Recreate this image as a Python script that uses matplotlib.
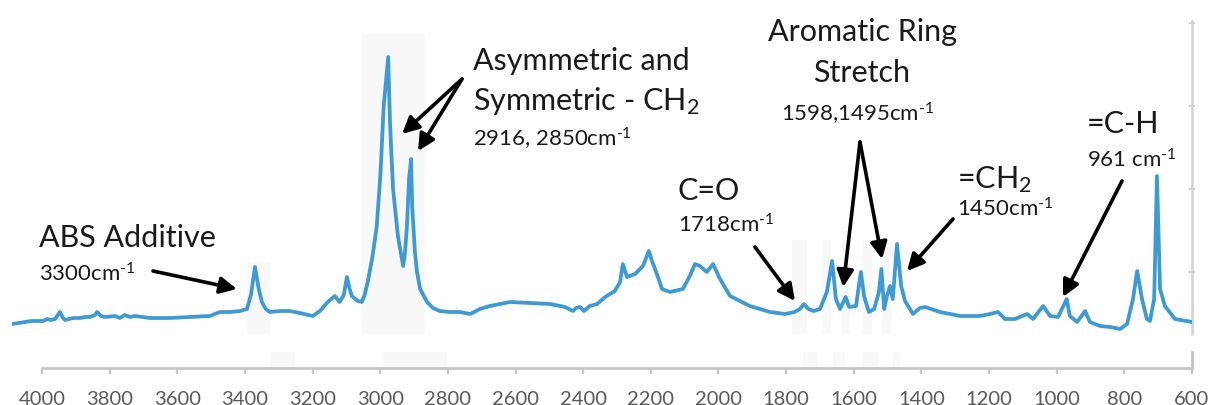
import matplotlib
matplotlib.use("Agg")
import matplotlib.pyplot as plt

plt.rcParams["font.family"] = ["Lato", "DejaVu Sans"]
plt.rcParams["mathtext.fontset"] = "custom"
plt.rcParams["mathtext.rm"] = "Lato"
plt.rcParams["mathtext.it"] = "Lato:italic"
plt.rcParams["mathtext.bf"] = "Lato:bold"

# FTIR spectrum: wavenumber (cm^-1) and absorbance (arbitrary units)
wavenumber = [
    4000, 3980, 3962, 3946, 3911, 3899, 3888, 3876, 3862, 3853, 3847, 3824,
    3804, 3790, 3775, 3761, 3755, 3744, 3732, 3703, 3689, 3675, 3660, 3646,
    3602, 3545, 3487, 3430, 3401, 3372, 3343, 3323, 3311, 3300, 3289, 3280,
    3269, 3257, 3229, 3200, 3171, 3133, 3113, 3090, 3070, 3056, 3044, 3035,
    3027, 3021, 3004, 2992, 2984, 2975, 2961, 2949, 2938, 2929, 2916, 2911,
    2902, 2888, 2873, 2868, 2862, 2856, 2850, 2847, 2839, 2833, 2824, 2804,
    2787, 2767, 2738, 2709, 2680, 2652, 2623, 2594, 2565, 2507, 2450, 2407,
    2384, 2375, 2363, 2352, 2335, 2314, 2291, 2263, 2248, 2240, 2228, 2205,
    2182, 2165, 2156, 2147, 2127, 2104, 2067, 2047, 2032, 2018, 1998, 1980,
    1960, 1931, 1874, 1816, 1773, 1745, 1730, 1718, 1705, 1690, 1672, 1652,
    1637, 1626, 1614, 1598, 1588, 1568, 1560, 1554, 1545, 1531, 1516, 1502,
    1495, 1487, 1479, 1470, 1462, 1450, 1438, 1427, 1404, 1384, 1369, 1326,
    1268, 1211, 1182, 1159, 1139, 1110, 1075, 1058, 1029, 1009, 986, 961,
    952, 931, 908, 894, 865, 836, 807, 787, 770, 758, 744, 730,
    721, 709, 701, 692, 678, 649, 600,
]
absorbance = [
    10, 11, 12, 13, 13, 15, 14, 15, 22, 16, 14, 16,
    16, 17, 17, 19, 22, 18, 17, 18, 16, 19, 17, 18,
    16, 16, 17, 18, 22, 22, 23, 25, 40, 67, 45, 32,
    25, 22, 23, 23, 21, 18, 23, 32, 38, 32, 39, 57,
    45, 38, 33, 32, 39, 52, 78, 108, 162, 228, 277, 212,
    145, 98, 68, 80, 108, 155, 175, 128, 82, 62, 45, 32,
    26, 23, 22, 22, 20, 25, 28, 30, 32, 31, 30, 27,
    23, 26, 27, 23, 28, 30, 37, 43, 52, 70, 57, 60,
    68, 83, 73, 65, 45, 42, 45, 58, 70, 68, 62, 70,
    55, 38, 28, 22, 20, 22, 25, 30, 25, 23, 25, 42,
    73, 35, 25, 37, 27, 28, 48, 62, 38, 22, 25, 42,
    65, 25, 38, 48, 35, 90, 48, 33, 20, 26, 27, 22,
    18, 18, 20, 22, 15, 15, 20, 15, 28, 18, 17, 35,
    18, 12, 23, 12, 8, 7, 5, 10, 35, 63, 35, 15,
    13, 35, 158, 45, 28, 15, 12,
]

# Right-hand intensity gridline ticks
intensity_ticks = [62, 145, 228, 311]

# Wavenumber tick labels
x_ticks = list(range(4000, 599, -200))

# Shaded regions of interest (wavenumber ranges) and their height fraction
bands = [
    (2992, 2810, 0.96),
    (3323, 3257, 0.23),
    (1752, 1709, 0.30),
    (1666, 1640, 0.30),
    (1608, 1585, 0.30),
    (1551, 1522, 0.30),
    (1493, 1466, 0.30),
]
axis_bands = [(3326, 3252), (2992, 2803), (1750, 1706), (1661, 1626),
              (1576, 1528), (1484, 1463)]

W, H = 1213, 406


def fx(px):
    return px / W


def fy(py):
    return 1 - py / H


fig = plt.figure(figsize=(W / 100, H / 100), dpi=100)

# --- spectrum panel ---
ax = fig.add_axes([fx(12), fy(335), fx(1192) - fx(12), fy(22) - fy(335)])
ax.patch.set_alpha(0)
line_color = "#3d9ad5"
ax.plot(wavenumber, absorbance, color=line_color, lw=2.7,
        solid_joinstyle="round", solid_capstyle="round", zorder=3)
band_color = "#f8f8f8"
for lo, hi, top in bands:
    ax.axvspan(hi, lo, ymin=0, ymax=top, color=band_color, lw=0, zorder=0)
ax.set_xlim(4000, 600)
ax.set_ylim(0, 313)
for side in ["top", "left", "bottom"]:
    ax.spines[side].set_visible(False)
ax.spines["right"].set_color("#d2d2d2")
ax.spines["right"].set_linewidth(1.8)
ax.yaxis.tick_right()
ax.set_yticks(intensity_ticks)
ax.tick_params(axis="y", direction="inout", length=5, width=1.4,
               colors="#d2d2d2", labelright=False)
ax.set_xticks([])

# --- wavenumber axis ---
ax2 = fig.add_axes([fx(42), fy(369), fx(1192) - fx(42), fy(353) - fy(369)])
ax2.patch.set_alpha(0)
ax2.set_xlim(4000, 600)
ax2.set_ylim(0, 1)
for lo, hi in axis_bands:
    ax2.axvspan(hi, lo, color=band_color, lw=0, zorder=0)
for side in ["top", "left"]:
    ax2.spines[side].set_visible(False)
for side in ["bottom", "right"]:
    ax2.spines[side].set_color("#c6c6c6")
    ax2.spines[side].set_linewidth(2)
ax2.set_yticks([])
ax2.set_xticks(x_ticks)
ax2.set_xticklabels([str(t) for t in x_ticks])
ax2.tick_params(axis="x", direction="out", length=4, width=1.6,
                color="#c6c6c6", labelcolor="#595959", labelsize=14.5, pad=12)

# --- peak annotations ---
ink = "#1a1a1a"
big = 22
small = 16


def label(px, py, s, size, ha="left"):
    fig.text(fx(px), fy(py), s, fontsize=size, color=ink, ha=ha,
             va="baseline")


def arrow(start_px, tip_wn, tip_val):
    ax.annotate("", xy=(tip_wn, tip_val), xycoords="data",
                xytext=(fx(start_px[0]), fy(start_px[1])),
                textcoords="figure fraction", annotation_clip=False,
                arrowprops=dict(arrowstyle="-|>", color="black", lw=2.6,
                                mutation_scale=25, shrinkA=0, shrinkB=0))


inv_cm = r"cm$^{\text{-1}}$"

label(39, 247, "ABS Additive", big)
label(39, 282, "3300" + inv_cm, small)
arrow((153, 272), 3352, 45)

label(473, 70, "Asymmetric and", big)
label(473, 110, "Symmetric - CH$_2$", big)
label(473, 147, "2916, 2850" + inv_cm, small)
arrow((462, 80), 2876, 200)
arrow((462, 80), 2830, 183)

label(678, 200, "C=O", big)
label(678, 233, "1718" + inv_cm, small)
arrow((755, 248), 1744, 33)

label(862, 41, "Aromatic Ring", big, ha="center")
label(862, 82, "Stretch", big, ha="center")
label(858, 122, "1598,1495" + inv_cm, small, ha="center")
arrow((860, 143), 1605, 47)
arrow((860, 143), 1493, 75)

label(957, 188, "=CH$_2$", big)
label(957, 217, "1450" + inv_cm, small)
arrow((953, 220), 1421, 63)

label(1087, 133, "=C-H", big)
label(1087, 168, "961 " + inv_cm, small)
arrow((1122, 182), 972, 37)

fig.savefig("out.png", dpi=100, facecolor="white")
